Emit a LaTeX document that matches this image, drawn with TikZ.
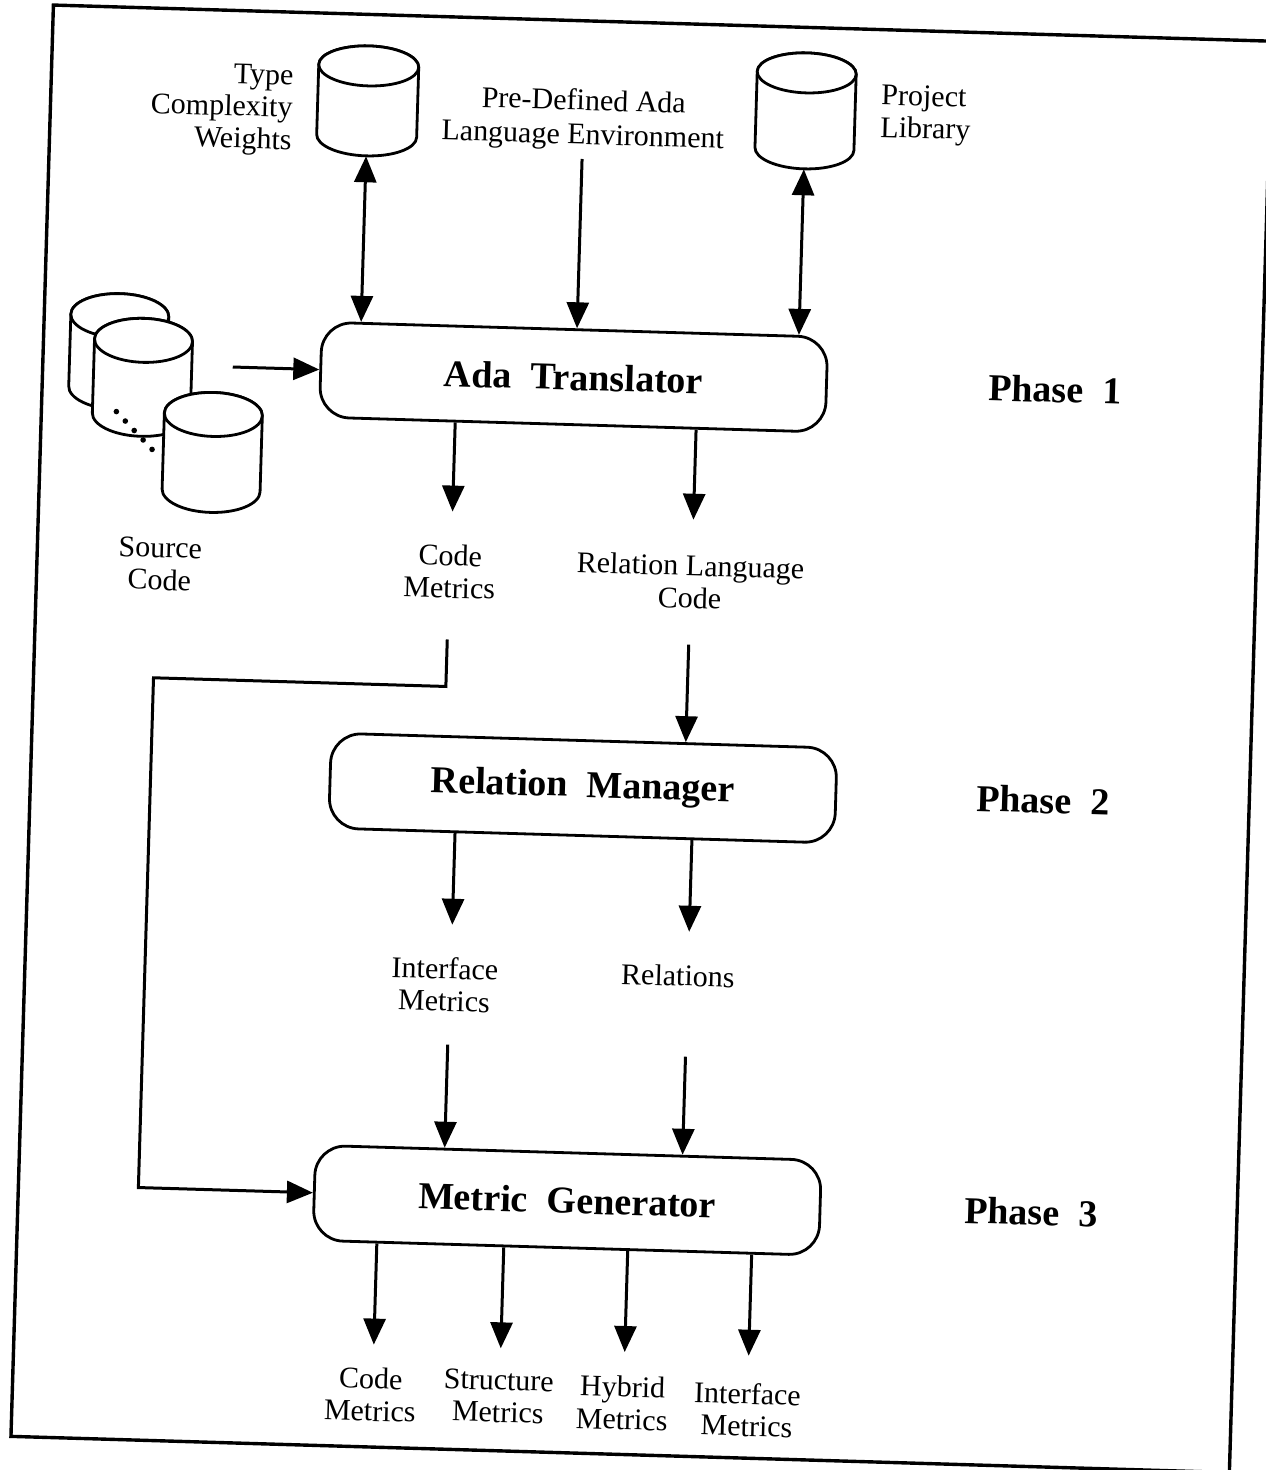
\documentclass[tikz,border=0pt]{standalone}
\usepackage{fontspec}
\setmainfont{Liberation Serif}
\usetikzlibrary{arrows.meta}
\newcommand\cylnode[6]{%
  \node[minimum width=#4pt, minimum height=#5pt] (#1) at (#2,#3) {};
  \pgfmathsetmacro\cyL{#2-#4}\pgfmathsetmacro\cyR{#2+#4}%
  \pgfmathsetmacro\cyT{#3-#5+#6}\pgfmathsetmacro\cyB{#3+#5-#6}%
  \pgfmathsetmacro\cyrx{#4/2}\pgfmathsetmacro\cyry{#6/2}%
  \draw[cylsty] (\cyL,\cyT) -- (\cyL,\cyB)
     arc[start angle=180,end angle=360,x radius=\cyrx pt,y radius=\cyry pt]
     -- (\cyR,\cyT)
     arc[start angle=0,end angle=180,x radius=\cyrx pt,y radius=\cyry pt] -- cycle;
  \draw[cylsty] (#2,\cyT) ellipse[x radius=\cyrx pt,y radius=\cyry pt];
}
\begin{document}
\begin{tikzpicture}[x=0.5pt,y=-0.5pt,
  every node/.style={inner sep=0pt},
  lbl/.style={font=\fontsize{15}{16.2}\selectfont, align=center},
  box/.style={draw, line width=1.4pt, rounded corners=15pt, minimum width=253pt,
    minimum height=47.5pt, font=\fontsize{19}{22}\selectfont\bfseries},
  phase/.style={font=\fontsize{19}{22}\selectfont\bfseries},
  ln/.style={line width=1.5pt},
  arr/.style={ln, -{Triangle[length=13pt,width=11pt]}},
  dbl/.style={ln, {Triangle[length=13pt,width=11pt]}-{Triangle[length=13pt,width=11pt]}},
  cylsty/.style={line width=1.4pt, fill=white}]
\useasboundingbox (0,0) rectangle (1265,1470);
\fill[white] (0,0) rectangle (1265,1470);
\begin{scope}[transform canvas={rotate around={-1.7:(632,735)}}]
  % frame
  \draw[line width=1.7pt] (32,22.5) rectangle (1251,1454.5);
  % databases
  \cylnode{tcw}{349}{109}{50}{55}{20}
  \cylnode{plib}{787}{106}{49.5}{58}{20}
  \cylnode{srcA}{107.6}{367}{49}{58}{22}
  \cylnode{srcB}{132}{392}{49}{59}{22}
  \draw[line width=2.8pt, line cap=round, dash pattern=on 0pt off 6.5pt] (107,427) -- (147,467);
  \cylnode{srcC}{204}{465}{49}{60}{22}
  % labels
  \node[lbl, align=right, anchor=east] (tcwl) at (274.5,121) {Type\\Complexity\\Weights};
  \node[lbl, font=\fontsize{15}{17}\selectfont, inner sep=4pt] (pda) at (565,121.5) {Pre-Defined Ada\\Language Environment};
  \node[lbl, align=left, anchor=west] (plibl) at (862,107) {Project\\Library};
  \node[lbl] (srcl) at (155,578) {Source\\Code};
  % processes
  \node[box] (ada) at (563,379) {Ada~~Translator};
  \node[box] (rm) at (584.5,789.5) {Relation~~Manager};
  \node[box] (mg) at (581,1202) {Metric~~Generator};
  \node[phase] (ph1) at (1045,377) {Phase~~1};
  \node[phase] (ph2) at (1045,788) {Phase~~2};
  \node[phase] (ph3) at (1045,1200) {Phase~~3};
  % intermediate products
  \node[lbl] (cm) at (445,577) {Code\\Metrics};
  \node[lbl] (rlc) at (685.5,580) {Relation Language\\Code};
  \node[lbl] (im) at (452,990) {Interface\\Metrics};
  \node[lbl] (rel) at (685,974) {Relations};
  % outputs
  \node[lbl] (ocm) at (390,1402) {Code\\Metrics};
  \node[lbl] (osm) at (518,1400) {Structure\\Metrics};
  \node[lbl] (ohm) at (642,1403) {Hybrid\\Metrics};
  \node[lbl] (oim) at (767,1406) {Interface\\Metrics};
  % connectors
  \draw[dbl] (tcw.south) -- (tcw.south |- ada.north);
  \draw[arr] (pda.south) -- (pda.south |- ada.north);
  \draw[dbl] (plib.south) -- (plib.south |- ada.north);
  \coordinate (srcout) at (222,379);
  \draw[arr] (srcout) -- (ada.west);
  \coordinate (cmIn) at (446,517);
  \draw[arr] (ada.south -| cmIn) -- (cmIn);
  \coordinate (rlcIn) at (687,518);
  \draw[arr] (ada.south -| rlcIn) -- (rlcIn);
  \coordinate (rlcOut) at (686,643);
  \draw[arr] (rlcOut) -- (rlcOut |- rm.north);
  \coordinate (cmOut) at (444.5,645);
  \coordinate (loopC) at (152,692);
  \draw[arr] (cmOut) |- (loopC) |- (mg.west);
  \coordinate (imIn) at (458,930);
  \draw[arr] (rm.south -| imIn) -- (imIn);
  \coordinate (relIn) at (695,930);
  \draw[arr] (rm.south -| relIn) -- (relIn);
  \coordinate (imOut) at (457,1050);
  \draw[arr] (imOut) -- (imOut |- mg.north);
  \coordinate (relOut) at (695,1055);
  \draw[arr] (relOut) -- (relOut |- mg.north);
  \coordinate (o1) at (392,1352);
  \coordinate (o2) at (519,1352);
  \coordinate (o3) at (643,1352);
  \coordinate (o4) at (767,1352);
  \draw[arr] (mg.south -| o1) -- (o1);
  \draw[arr] (mg.south -| o2) -- (o2);
  \draw[arr] (mg.south -| o3) -- (o3);
  \draw[arr] (mg.south -| o4) -- (o4);
\end{scope}
\end{tikzpicture}
\end{document}
